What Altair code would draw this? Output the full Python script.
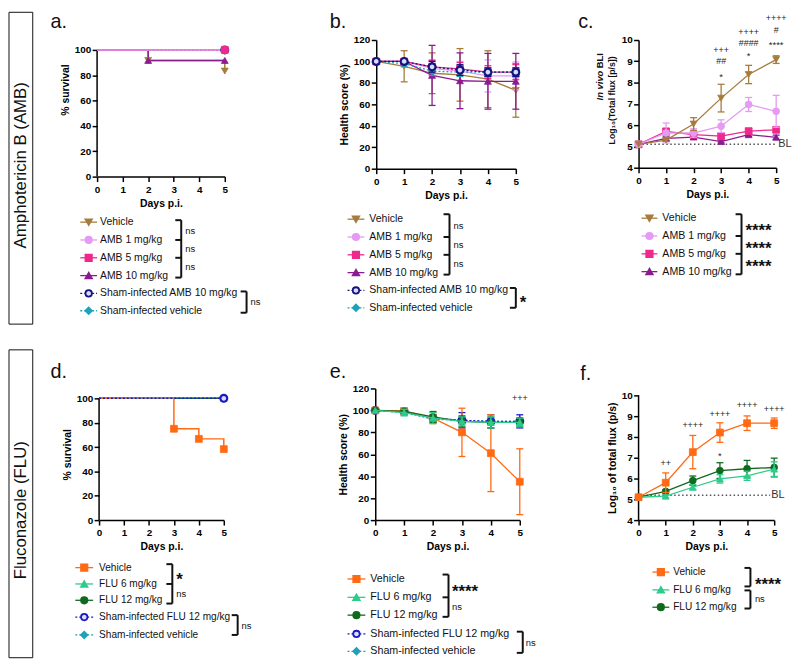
import altair as alt
import pandas as pd

FONT = "Liberation Sans"

# ---------------- axis ticks ----------------
DAY_TICKS = [0, 1, 2, 3, 4, 5]
SURV_TICKS = [0, 20, 40, 60, 80, 100]
HEALTH_TICKS = [0, 20, 40, 60, 80, 100, 120]
BLI_TICKS = [4, 5, 6, 7, 8, 9, 10]
DAYS = [0, 1, 2, 3, 4, 5]

# ---------------- a. survival, amphotericin B (Kaplan-Meier) ----------------
a_vehicle_day = [0, 2, 5]
a_vehicle_surv = [100, 91.7, 83.3]
a_amb1_day = [0, 5]
a_amb1_surv = [100, 100]
a_amb5_day = [0, 5]
a_amb5_surv = [100, 100]
a_amb10_day = [0, 2, 5]
a_amb10_surv = [100, 91.7, 91.7]
a_sham_amb10_day = [0, 5]
a_sham_amb10_surv = [100, 100]
a_sham_vehicle_day = [0, 5]
a_sham_vehicle_surv = [100, 100]

# ---------------- b. health score, AMB (mean, SD) ----------------
b_vehicle_mean = [100, 95.5, 89, 87.5, 83.5, 73]
b_vehicle_sd = [0, 14.5, 19, 24.5, 26.5, 25]
b_amb1_mean = [100, 100, 93.5, 91, 86.5, 86.5]
b_amb1_sd = [0, 2, 8, 9, 15, 13]
b_amb5_mean = [100, 100, 95, 93, 90, 90]
b_amb5_sd = [0, 1, 6, 6, 6, 7]
b_amb10_mean = [100, 100, 87, 82, 81.5, 81.5]
b_amb10_sd = [0, 1, 28, 26, 26, 26]
b_sham_amb10_mean = [100, 100, 95, 92, 90, 90]
b_sham_amb10_sd = [0, 0, 5, 5, 4, 4]
b_sham_vehicle_mean = [100, 98, 91, 90, 90, 90]
b_sham_vehicle_sd = [0, 3, 4, 4, 4, 4]

# ---------------- c. in vivo BLI, AMB (mean, SD) ----------------
c_vehicle_mean = [5.1, 5.3, 6.05, 7.27, 8.38, 9.08]
c_vehicle_sd = [0, 0.06, 0.3, 0.65, 0.43, 0.18]
c_amb1_mean = [5.1, 5.63, 5.63, 5.95, 6.97, 6.65]
c_amb1_sd = [0, 0.47, 0.2, 0.3, 0.33, 0.75]
c_amb5_mean = [5.1, 5.7, 5.55, 5.48, 5.72, 5.78]
c_amb5_sd = [0, 0.15, 0.12, 0.12, 0.1, 0.1]
c_amb10_mean = [5.1, 5.38, 5.44, 5.23, 5.55, 5.43]
c_amb10_sd = [0, 0.1, 0.1, 0.06, 0.08, 0.1]
c_baseline = 5.1
c_sig_day = [3, 3, 3, 4, 4, 4, 5, 5, 5]
c_sig_y = [9.55, 8.99, 8.39, 10.36, 9.85, 9.35, 11.05, 10.48, 9.89]
c_sig_text = ["+++", "##", "*", "++++", "####", "*", "++++", "#", "****"]

# ---------------- d. survival, fluconazole ----------------
d_vehicle_day = [0, 3, 4, 5]
d_vehicle_surv = [100, 75, 66.7, 58.3]
d_flu6_day = [0, 5]
d_flu6_surv = [100, 100]
d_flu12_day = [0, 5]
d_flu12_surv = [100, 100]
d_sham_flu12_day = [0, 5]
d_sham_flu12_surv = [100, 100]
d_sham_vehicle_day = [0, 5]
d_sham_vehicle_surv = [100, 100]

# ---------------- e. health score, FLU ----------------
e_vehicle_mean = [100, 99.5, 93, 80, 61, 35]
e_vehicle_sd = [0, 1, 5, 22, 35, 30]
e_flu6_mean = [100, 98, 93, 90, 89, 89]
e_flu6_sd = [0, 3, 5, 4, 5, 4]
e_flu12_mean = [100, 99, 94, 90, 89, 89]
e_flu12_sd = [0, 1, 5, 5, 5, 4]
e_sham_flu12_mean = [100, 99, 93, 91, 90, 90]
e_sham_flu12_sd = [0, 2, 3, 7, 6, 6]
e_sham_vehicle_mean = [100, 98, 92, 91, 90, 90]
e_sham_vehicle_sd = [0, 2, 3, 3, 3, 3]
e_sig_day = [5]
e_sig_y = [111]
e_sig_text = ["+++"]

# ---------------- f. BLI, FLU ----------------
f_vehicle_mean = [5.1, 5.8, 7.27, 8.21, 8.66, 8.66]
f_vehicle_sd = [0, 0.47, 0.8, 0.47, 0.35, 0.25]
f_flu6_mean = [5.1, 5.15, 5.58, 5.98, 6.13, 6.45]
f_flu6_sd = [0, 0.06, 0.12, 0.2, 0.22, 0.35]
f_flu12_mean = [5.1, 5.38, 5.9, 6.38, 6.47, 6.53]
f_flu12_sd = [0, 0.08, 0.22, 0.38, 0.4, 0.45]
f_baseline = 5.2
f_sig_day = [1, 2, 3, 4, 5, 3]
f_sig_y = [6.76, 8.56, 9.11, 9.54, 9.32, 7.2]
f_sig_text = ["++", "++++", "++++", "++++", "++++", "*"]

# ---------------- legend labels ----------------
AMB_KEYS = ["veh_amb", "amb1", "amb5", "amb10", "sham_amb", "sham_veh"]
AMB_NAMES = ["Vehicle", "AMB 1 mg/kg", "AMB 5 mg/kg", "AMB 10 mg/kg",
             "Sham-infected AMB 10 mg/kg", "Sham-infected vehicle"]
FLU_KEYS = ["veh_flu", "flu6", "flu12", "sham_flu", "sham_veh"]
FLU_NAMES = ["Vehicle", "FLU 6 mg/kg", "FLU 12 mg/kg",
             "Sham-infected FLU 12 mg/kg", "Sham-infected vehicle"]

# ---------------- styles ----------------
STYLE = {
    "veh_amb": dict(color="#A67C3C", shape="triangle-down", fill="#A67C3C", dotted=False),
    "amb1": dict(color="#E59AF4", shape="circle", fill="#E59AF4", dotted=False),
    "amb5": dict(color="#F0288C", shape="square", fill="#F0288C", dotted=False),
    "amb10": dict(color="#8B1B8F", shape="triangle-up", fill="#8B1B8F", dotted=False),
    "sham_amb": dict(color="#14147E", shape="circle", fill="#D8DCFA", dotted=True),
    "sham_veh": dict(color="#1FA2B8", shape="diamond", fill="#1FA2B8", dotted=True),
    "veh_flu": dict(color="#FF6A13", shape="square", fill="#FF6A13", dotted=False),
    "flu6": dict(color="#2ECB8B", shape="triangle-up", fill="#2ECB8B", dotted=False),
    "flu12": dict(color="#0F6A1E", shape="circle", fill="#0F6A1E", dotted=False),
    "sham_flu": dict(color="#1A1AC4", shape="circle", fill="#D8DCFA", dotted=True),
}
MARK_SIZE = 48
LEG_MARK_SIZE = 42
SERIF = 6
STAR_FS = 17
ZERO_PAD = {"left": 0, "top": 0, "right": 0, "bottom": 0}


def x_enc(field="day"):
    return alt.X(f"{field}:Q",
                 scale=alt.Scale(domain=[0, 5], nice=False, zero=False),
                 axis=alt.Axis(values=DAY_TICKS, title="Days p.i.", format="d"))


def make_y(domain, ticks, title, domain_line=True, title_y=None):
    axis_kw = dict(values=ticks, format="d", domain=domain_line, title=title)
    if title_y is not None:
        axis_kw["titleY"] = title_y
    scale = alt.Scale(domain=domain, nice=False, zero=False)

    def enc(field):
        return alt.Y(f"{field}:Q", scale=scale, axis=alt.Axis(**axis_kw))
    return enc


def point_kw(key, size):
    st = STYLE[key]
    hollow = st["fill"] != st["color"]
    return dict(shape=st["shape"], size=size, filled=True, fill=st["fill"],
                stroke=st["color"], strokeWidth=2.2 if hollow else 0.8, opacity=1)


def line_kw(key, width=1.3):
    st = STYLE[key]
    kw = dict(color=st["color"], strokeWidth=width)
    if st["dotted"]:
        kw["strokeDash"] = [2, 2]
    return kw


def km_layers(series, line_order, point_order, yenc):
    data = {k: pd.DataFrame({"day": d, "surv": s}) for d, s, k in series}
    layers = []
    for k in line_order:
        layers.append(alt.Chart(data[k]).mark_line(interpolate="step-after", **line_kw(k, 1.5))
                      .encode(x=x_enc(), y=yenc("surv")))
    for k in point_order:
        df = data[k]
        df = df[df["day"] > 0]
        layers.append(alt.Chart(df).mark_point(**point_kw(k, MARK_SIZE))
                      .encode(x=x_enc(), y=yenc("surv")))
    return layers


def y_axis_line(yenc, y_from, y_to):
    df = pd.DataFrame({"day": [0], "y0": [y_from], "y1": [y_to]})
    return alt.Chart(df).mark_rule(color="black", strokeWidth=1.5).encode(
        x=x_enc(), y=yenc("y0"), y2=alt.Y2("y1"))


def msd_layers(series, order, yenc):
    layers = []
    for k in order:
        mean, sd = series[k]
        st = STYLE[k]
        df = pd.DataFrame({"day": DAYS, "mean": mean, "sd": sd})
        df["lo"] = df["mean"] - df["sd"]
        df["hi"] = df["mean"] + df["sd"]
        err = df[df["sd"] > 0]
        layers.append(alt.Chart(err).mark_rule(color=st["color"], strokeWidth=1.3)
                      .encode(x=x_enc(), y=yenc("lo"), y2=alt.Y2("hi")))
        for f in ("lo", "hi"):
            layers.append(alt.Chart(err).mark_tick(orient="horizontal", size=7, thickness=1.3,
                                                   color=st["color"], opacity=1)
                          .encode(x=x_enc(), y=yenc(f)))
        layers.append(alt.Chart(df).mark_line(**line_kw(k)).encode(x=x_enc(), y=yenc("mean")))
        layers.append(alt.Chart(df).mark_point(**point_kw(k, MARK_SIZE))
                      .encode(x=x_enc(), y=yenc("mean")))
    return layers


def sig_layers(days, ys, texts, yenc):
    df = pd.DataFrame({"day": days, "y": ys, "t": texts})
    is_star = df["t"].str.startswith("*")
    out = []
    if (~is_star).any():
        out.append(alt.Chart(df[~is_star]).mark_text(font=FONT, fontSize=9, color="#222")
                   .encode(x=x_enc(), y=yenc("y"), text="t:N"))
    if is_star.any():
        out.append(alt.Chart(df[is_star]).mark_text(font=FONT, fontSize=9.5, color="#222", dy=2.5)
                   .encode(x=x_enc(), y=yenc("y"), text="t:N"))
    return out


def bl_layers(level, x_end, dx, yenc):
    line_df = pd.DataFrame({"day": [0, x_end], "y": [level, level]})
    txt_df = pd.DataFrame({"day": [5], "y": [level], "t": ["BL"]})
    return [
        alt.Chart(line_df).mark_line(color="#555", strokeWidth=1.5, strokeDash=[1.5, 2.5])
        .encode(x=x_enc(), y=yenc("y")),
        alt.Chart(txt_df).mark_text(font=FONT, fontSize=11, color="#333", align="left",
                                    baseline="middle", dx=dx)
        .encode(x=x_enc(), y=yenc("y"), text="t:N"),
    ]


def ident_x(f):
    return alt.X(f"{f}:Q", scale=None, axis=None)


def ident_y(f):
    return alt.Y(f"{f}:Q", scale=None, axis=None)


def legend_layers(keys, names, ys, x0, x1, xt, fs):
    rows = pd.DataFrame({
        "label": names,
        "color": [STYLE[k]["color"] for k in keys],
        "fill": [STYLE[k]["fill"] for k in keys],
        "shape": [STYLE[k]["shape"] for k in keys],
        "dotted": [STYLE[k]["dotted"] for k in keys],
        "y": ys,
    })
    rows["x0"] = x0
    rows["x1"] = x1
    rows["xm"] = (x0 + x1) / 2
    rows["xt"] = xt
    layers = []
    for dotted in (False, True):
        sub = rows[rows["dotted"] == dotted]
        if len(sub):
            kw = dict(strokeWidth=1.3)
            if dotted:
                kw["strokeDash"] = [2, 2]
            layers.append(alt.Chart(sub).mark_rule(**kw).encode(
                x=ident_x("x0"), x2=alt.X2("x1"), y=ident_y("y"),
                color=alt.Color("color:N", scale=None)))
    layers.append(alt.Chart(rows).mark_point(size=LEG_MARK_SIZE, filled=True, opacity=1, strokeWidth=1.8)
                  .encode(x=ident_x("xm"), y=ident_y("y"),
                          shape=alt.Shape("shape:N", scale=None),
                          fill=alt.Fill("fill:N", scale=None),
                          stroke=alt.Stroke("color:N", scale=None)))
    layers.append(alt.Chart(rows).mark_text(align="left", baseline="middle", font=FONT,
                                            fontSize=fs, color="#111")
                  .encode(x=ident_x("xt"), y=ident_y("y"), text="label:N"))
    return layers


def bracket_layers(ys, brackets, labels):
    segs = []
    for bx, r0, o0, r1, o1, mids in brackets:
        ytop = ys[r0] + o0
        ybot = ys[r1] + o1
        segs.append((bx, bx, ytop, ybot))
        segs.append((bx - SERIF, bx, ytop, ytop))
        segs.append((bx - SERIF, bx, ybot, ybot))
        for m in mids:
            segs.append((bx - SERIF, bx, ys[m], ys[m]))
    seg_df = pd.DataFrame(segs, columns=["xa", "xb", "ya", "yb"])
    out = [alt.Chart(seg_df).mark_rule(color="#111", strokeWidth=2).encode(
        x=ident_x("xa"), x2=alt.X2("xb"), y=ident_y("ya"), y2=alt.Y2("yb"))]
    lab = pd.DataFrame([(t, (ys[a] + ys[b]) / 2 + adj, x) for t, a, b, x, adj in labels],
                       columns=["t", "y", "x"])
    stars = lab[lab["t"].str.startswith("*")]
    ns = lab[~lab["t"].str.startswith("*")]
    if len(ns):
        out.append(alt.Chart(ns).mark_text(align="left", baseline="middle", font=FONT,
                                           fontSize=9.5, color="#111")
                   .encode(x=ident_x("x"), y=ident_y("y"), text="t:N"))
    if len(stars):
        out.append(alt.Chart(stars).mark_text(align="left", baseline="middle", font=FONT,
                                              fontSize=STAR_FS, fontWeight="bold", color="#111", dy=4)
                   .encode(x=ident_x("x"), y=ident_y("y"), text="t:N"))
    return out


def panel_letter(letter, dx, dy):
    return alt.Chart(pd.DataFrame({"t": [letter]})).mark_text(
        align="left", baseline="alphabetic", font=FONT, fontSize=20, color="#111"
    ).encode(x=alt.value(dx), y=alt.value(dy), text="t:N")


def side_box(text, y_top, y_bottom, y_text, w=24):
    df = pd.DataFrame({"t": [text]})
    rect = alt.Chart(df).mark_rect(fillOpacity=0, stroke="#111", strokeWidth=1).encode(
        x=alt.value(0), x2=alt.value(w), y=alt.value(y_top), y2=alt.value(y_bottom))
    label = alt.Chart(df).mark_text(angle=270, font=FONT, fontSize=17, color="#111").encode(
        x=alt.value(w / 2), y=alt.value(y_text), text="t:N")
    return alt.layer(rect, label).properties(width=w, height=100)


def spacer(w):
    return alt.Chart(pd.DataFrame({"v": [0]})).mark_point(opacity=0).encode(
        x=alt.value(0), y=alt.value(0)).properties(width=w, height=10)


# ================= panel a =================
ya = make_y([0, 107.8], SURV_TICKS, "% survival", domain_line=False, title_y=50)
a_series = [(a_vehicle_day, a_vehicle_surv, "veh_amb"), (a_amb1_day, a_amb1_surv, "amb1"),
            (a_amb5_day, a_amb5_surv, "amb5"), (a_amb10_day, a_amb10_surv, "amb10"),
            (a_sham_amb10_day, a_sham_amb10_surv, "sham_amb"),
            (a_sham_vehicle_day, a_sham_vehicle_surv, "sham_veh")]
a_ys = [184, 202, 220, 238, 256, 273.5]
panel_a = alt.layer(
    y_axis_line(ya, 0, 100),
    *km_layers(a_series, ["sham_veh", "sham_amb", "veh_amb", "amb10", "amb5", "amb1"],
               ["sham_veh", "sham_amb", "amb1", "amb5", "veh_amb", "amb10"], ya),
    *legend_layers(AMB_KEYS, AMB_NAMES, a_ys, -17, 0, 3, 10.5),
    *bracket_layers(a_ys, [(85, 0, -2, 3, 2, [1, 2]), (151, 4, -2, 5, 2, [])],
                    [("ns", 0, 1, 89, 0), ("ns", 1, 2, 89, 0), ("ns", 2, 3, 89, 0),
                     ("ns", 4, 5, 155, 0)]),
    panel_letter("a.", -47, -12),
).properties(width=129, height=138)

# ================= panel b =================
yb = make_y([0, 120], HEALTH_TICKS, "Health score (%)")
b_series = {"veh_amb": (b_vehicle_mean, b_vehicle_sd), "amb1": (b_amb1_mean, b_amb1_sd),
            "amb5": (b_amb5_mean, b_amb5_sd), "amb10": (b_amb10_mean, b_amb10_sd),
            "sham_amb": (b_sham_amb10_mean, b_sham_amb10_sd),
            "sham_veh": (b_sham_vehicle_mean, b_sham_vehicle_sd)}
b_ys = [181, 199, 217, 235, 253, 270.5]
panel_b = alt.layer(
    *msd_layers(b_series, ["veh_amb", "amb1", "amb5", "amb10", "sham_veh", "sham_amb"], yb),
    *legend_layers(AMB_KEYS, AMB_NAMES, b_ys, -29, -12, -7, 10.6),
    *bracket_layers(b_ys, [(74, 0, -5, 3, 2, [1, 2]), (141, 4, -2.5, 5, 0, [])],
                    [("ns", 0, 1, 78, -2), ("ns", 1, 2, 78, -1), ("ns", 2, 3, 78, 0),
                     ("*", 4, 5, 145, 0)]),
    panel_letter("b.", -47, -12),
).properties(width=141, height=130)

# ================= panel c =================
yc = make_y([4, 10], BLI_TICKS, None)
c_series = {"veh_amb": (c_vehicle_mean, c_vehicle_sd), "amb1": (c_amb1_mean, c_amb1_sd),
            "amb5": (c_amb5_mean, c_amb5_sd), "amb10": (c_amb10_mean, c_amb10_sd)}
c_ys = [180, 198, 216, 234]
c_title = [
    alt.Chart(pd.DataFrame({"t": ["In vivo"]})).mark_text(
        angle=270, align="left", baseline="middle", font=FONT, fontSize=9.5,
        fontWeight="bold", fontStyle="italic", color="#111").encode(
        x=alt.value(-39), y=alt.value(61), text="t:N"),
    alt.Chart(pd.DataFrame({"t": ["BLI"]})).mark_text(
        angle=270, align="left", baseline="middle", font=FONT, fontSize=9.5,
        fontWeight="bold", color="#111").encode(
        x=alt.value(-39), y=alt.value(28.5), text="t:N"),
    alt.Chart(pd.DataFrame({"t": ["Log\u2081\u2080(Total flux [p/s])"]})).mark_text(
        angle=270, align="center", baseline="middle", font=FONT, fontSize=8.8,
        fontWeight="bold", color="#111").encode(
        x=alt.value(-27), y=alt.value(61), text="t:N"),
]
panel_c = alt.layer(
    *bl_layers(c_baseline, 5, 2, yc),
    *msd_layers(c_series, ["amb10", "amb5", "amb1", "veh_amb"], yc),
    *sig_layers(c_sig_day, c_sig_y, c_sig_text, yc),
    *c_title,
    *legend_layers(AMB_KEYS[:4], AMB_NAMES[:4], c_ys, 3, 19, 24, 10.7),
    *bracket_layers(c_ys, [(104, 0, -4, 3, 2.7, [1, 2])],
                    [("****", 0, 1, 108, 0), ("****", 1, 2, 108, 0), ("****", 2, 3, 108, 0)]),
    panel_letter("c.", -61, -12),
).properties(width=139, height=129)

# ================= panel d =================
yd = make_y([0, 108.1], SURV_TICKS, "% survival", domain_line=False)
d_series = [(d_vehicle_day, d_vehicle_surv, "veh_flu"), (d_flu6_day, d_flu6_surv, "flu6"),
            (d_flu12_day, d_flu12_surv, "flu12"),
            (d_sham_flu12_day, d_sham_flu12_surv, "sham_flu"),
            (d_sham_vehicle_day, d_sham_vehicle_surv, "sham_veh")]
d_ys = [181, 197.5, 214, 231, 249]
panel_d = alt.layer(
    y_axis_line(yd, 0, 100),
    *km_layers(d_series, ["flu6", "flu12", "veh_flu", "sham_veh", "sham_flu"],
               ["veh_flu", "flu6", "flu12", "sham_veh", "sham_flu"], yd),
    *legend_layers(FLU_KEYS, FLU_NAMES, d_ys, -24, -6, 0, 10.2),
    *bracket_layers(d_ys, [(74, 0, -3.5, 2, 3.3, [1]), (140, 3, -2, 4, 0, [])],
                    [("*", 0, 1, 78, 0), ("ns", 1, 2, 78, 1.5), ("ns", 3, 4, 144, 0)]),
    panel_letter("d.", -49, -11),
).properties(width=126, height=133)

# ================= panel e =================
ye = make_y([0, 120], HEALTH_TICKS, "Health score (%)")
e_series = {"veh_flu": (e_vehicle_mean, e_vehicle_sd), "flu6": (e_flu6_mean, e_flu6_sd),
            "flu12": (e_flu12_mean, e_flu12_sd),
            "sham_flu": (e_sham_flu12_mean, e_sham_flu12_sd),
            "sham_veh": (e_sham_vehicle_mean, e_sham_vehicle_sd)}
e_ys = [192.5, 211, 229, 248, 265.5]
panel_e = alt.layer(
    *msd_layers(e_series, ["sham_veh", "sham_flu", "veh_flu", "flu12", "flu6"], ye),
    *sig_layers(e_sig_day, e_sig_y, e_sig_text, ye),
    *legend_layers(FLU_KEYS, FLU_NAMES, e_ys, -28, -10, -5, 10.8),
    *bracket_layers(e_ys, [(74, 0, -4.5, 2, 1.7, [1]), (149, 3, -2.3, 4, 1.6, [])],
                    [("****", 0, 1, 77.5, 0), ("ns", 1, 2, 77.5, 0.5), ("ns", 3, 4, 152, 0)]),
    panel_letter("e.", -46, -11),
).properties(width=146, height=133)

# ================= panel f =================
yf = make_y([4, 10.33], BLI_TICKS, "Log\u2081\u2080 of total flux (p/s)",
            domain_line=False, title_y=70)
f_series = {"veh_flu": (f_vehicle_mean, f_vehicle_sd), "flu6": (f_flu6_mean, f_flu6_sd),
            "flu12": (f_flu12_mean, f_flu12_sd)}
f_ys = [185.5, 203.5, 221]
panel_f = alt.layer(
    y_axis_line(yf, 4, 10),
    *bl_layers(f_baseline, 4.85, -3, yf),
    *msd_layers(f_series, ["flu12", "flu6", "veh_flu"], yf),
    *sig_layers(f_sig_day, f_sig_y, f_sig_text, yf),
    *legend_layers(FLU_KEYS[:3], FLU_NAMES[:3], f_ys, 14, 31, 35, 10.2),
    *bracket_layers(f_ys, [(113, 0, -4.2, 1, -3.5, []), (113, 1, 0.5, 2, 1.3, [])],
                    [("****", 0, 1, 117.5, 0), ("ns", 1, 2, 117.5, 0)]),
    panel_letter("f.", -59, -9),
).properties(width=137, height=133)

# ================= layout =================
row1 = alt.hconcat(side_box("Amphotericin B (AMB)", -28, 287, 126.5), spacer(65), panel_a,
                   spacer(153), panel_b, spacer(124), panel_c, spacing=0, bounds="flush")
row2 = alt.hconcat(side_box("Fluconazole (FLU)", -39, 272, 123), spacer(67), panel_d,
                   spacer(153), panel_e, spacer(120), panel_f, spacing=0, bounds="flush")

chart = alt.vconcat(row1, row2, spacing=24).properties(padding=ZERO_PAD).configure_view(
    stroke=None
).configure_axis(
    domainColor="black", domainWidth=1.5, tickColor="black", tickWidth=1.5, tickSize=5,
    labelFont=FONT, labelFontSize=10, labelFontWeight="bold", labelColor="black",
    titleFont=FONT, titleFontSize=10.5, titleFontWeight="bold", titleColor="black",
    grid=False, labelFlush=False,
).configure_axisX(labelPadding=3, titlePadding=4).configure_axisY(labelPadding=1.5, titlePadding=4)

chart.save("out.html", embed_options={"renderer": "svg", "actions": False})
